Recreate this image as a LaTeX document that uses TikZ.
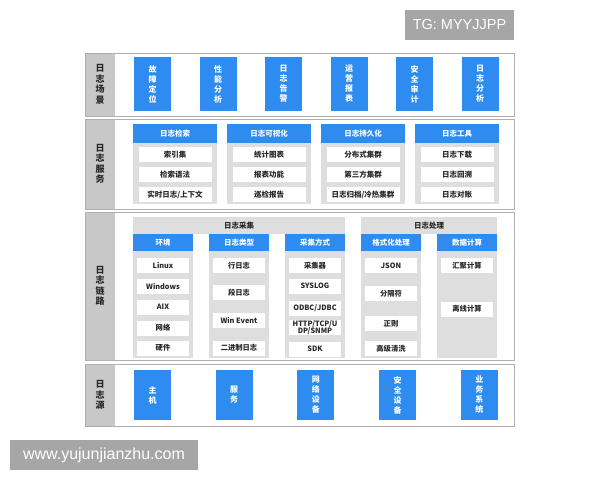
\documentclass[tikz,border=0pt]{standalone}
\usepackage{fontspec}
\setmainfont{Noto Sans CJK SC}
\newfontfamily\wmfont{Liberation Sans}
\usetikzlibrary{positioning}

\definecolor{logblue}{RGB}{46,140,240}
\definecolor{grpgray}{RGB}{222,222,222}
\definecolor{labgray}{RGB}{200,200,200}
\definecolor{linegray}{RGB}{176,176,176}
\definecolor{textdark}{RGB}{40,40,40}
\definecolor{wmgray}{RGB}{166,166,166}

\tikzset{
  rowlabel/.style={inner sep=0pt, align=center, text=textdark, font=\fontsize{9}{10.5}\selectfont\bfseries},
  bluebox/.style={fill=logblue, text=white, minimum width=37pt, inner sep=0pt, align=center, font=\fontsize{8}{10}\selectfont\bfseries},
  grphead/.style={fill=logblue, text=white, minimum height=17pt, inner sep=0pt, font=\fontsize{7.5}{8}\selectfont\bfseries},
  itembox/.style={fill=white, text=textdark, minimum height=15pt, inner sep=0pt, align=center, font=\fontsize{7.5}{8}\selectfont\bfseries},
  striptext/.style={inner sep=0pt, text=textdark, font=\fontsize{7.5}{8}\selectfont\bfseries},
  wmbox/.style={fill=wmgray, text=white, inner sep=0pt, minimum height=30pt}
}

\begin{document}
\begin{tikzpicture}[x=1pt,y=-1pt]
\useasboundingbox (0,0) rectangle (600,480);
\foreach \ya/\yb in {53/116,119/209,212/360,364/426} {
\fill[labgray] (85,\ya) rectangle (115,\yb);
\draw[linegray, line width=0.8pt] (85,\ya) rectangle (514,\yb);
}
\node[rowlabel] (scene) at (100,84.5) {日\\志\\场\\景};
\node[rowlabel] (service) at (100,164) {日\\志\\服\\务};
\node[rowlabel] (chain) at (100,286) {日\\志\\链\\路};
\node[rowlabel] (source) at (100,395) {日\\志\\源};

\foreach \t [count=\i from 0] in {故\\障\\定\\位,性\\能\\分\\析,日\\志\\告\\警,运\\营\\报\\表,安\\全\\审\\计,日\\志\\分\\析}
\node[bluebox, minimum height=54pt] (scene\i) at ({152.5+65.5*\i},84) {\t};

\foreach \hd/\ia/\ib/\ic [count=\i from 0] in {日志检索/索引集/检索语法/实时日志\slash 上下文,
  日志可视化/统计图表/报表功能/巡检报告, 日志持久化/分布式集群/第三方集群/日志归档\slash 冷热集群,
  日志工具/日志下载/日志回溯/日志对账} {
\begin{scope}[shift={({133+94*\i},124)}]
\fill[grpgray] (0,0) rectangle (84,80);
\node[grphead, minimum width=84pt, minimum height=19pt, anchor=north west] (svc\i) at (0,0) {\hd};
\node[itembox, minimum width=73pt] (svc\i-1) at (42,30.5) {\ia};
\node[itembox, minimum width=73pt] (svc\i-2) at (42,50.5) {\ib};
\node[itembox, minimum width=73pt] (svc\i-3) at (42,70.5) {\ic};
\end{scope}
}

\fill[grpgray] (133,217) rectangle (345,234);
\node[striptext] (collect) at (239,225.5) {日志采集};
\fill[grpgray] (361,217) rectangle (497,234);
\node[striptext] (process) at (429,225.5) {日志处理};
\foreach \hd [count=\k from 0] in {环境,日志类型,采集方式,格式化处理,数据计算} {
\fill[grpgray] ({133+76*\k},234) rectangle +(60,124);
\node[grphead, minimum width=60pt, anchor=north west] (col\k) at ({133+76*\k},234) {\hd};
}
\foreach \k/\y/\t [count=\n] in {0/265.5/Linux, 0/286.5/Windows, 0/307/AIX, 0/328/网络, 0/348/硬件,
  1/265.5/行日志, 1/292.5/段日志, 1/320.5/Win Event, 1/348/二进制日志,
  2/265.5/采集器, 2/286/SYSLOG, 2/308.5/ODBC\slash JDBC, 2/327.5/HTTP\slash TCP\slash U\\DP\slash SNMP, 2/349/SDK,
  3/265.5/JSON, 3/293.5/分隔符, 3/323.5/正则, 3/348.5/高级清洗,
  4/265.5/汇聚计算, 4/309/离线计算}
\node[itembox, minimum width=52pt, font=\fontsize{7.3}{7.6}\selectfont\bfseries] (item\n) at ({163+76*\k},\y) {\t};

\foreach \t [count=\i from 0] in {主\\机,服\\务,网\\络\\设\\备,安\\全\\设\\备,业\\务\\系\\统}
\node[bluebox, minimum height=50pt] (src\i) at ({152.5+81.7*\i},395) {\t};

\node[wmbox, minimum width=109pt, font=\wmfont\fontsize{14.5}{16}\selectfont] (tg) at (459.5,25) {TG: MYYJJPP};
\node[wmbox, minimum width=188pt, font=\wmfont\fontsize{16}{18}\selectfont] (site) at (104,455) {www.yujunjianzhu.com};
\end{tikzpicture}
\end{document}
